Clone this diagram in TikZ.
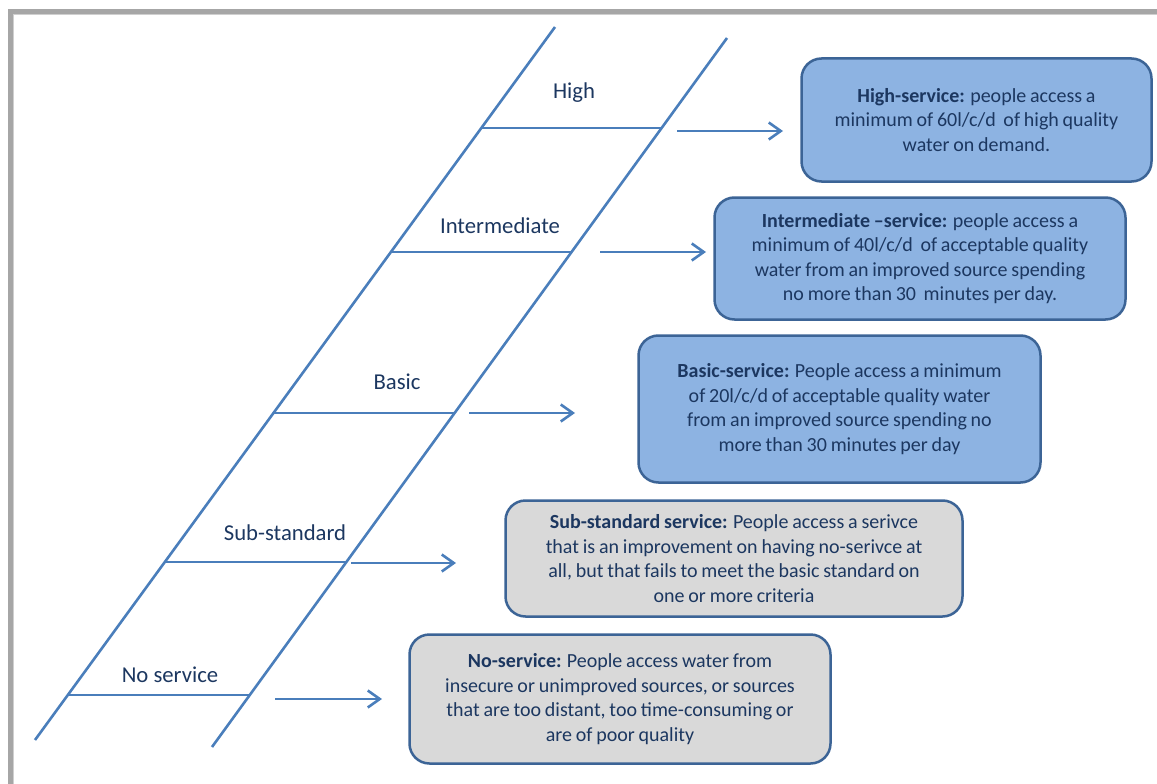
\documentclass[tikz,border=0pt]{standalone}
\usepackage{fontspec}
\setmainfont{Carlito}
\usetikzlibrary{arrows.meta}
\definecolor{railc}{HTML}{4A7EBB}
\definecolor{txtc}{HTML}{1C3760}
\definecolor{boxborder}{HTML}{3C6496}
\definecolor{bluefill}{HTML}{8DB3E2}
\definecolor{grayfill}{HTML}{D9D9D9}
\definecolor{framec}{HTML}{A6A6A6}
\definecolor{framelt}{HTML}{CFCFCF}
\newcommand{\boxfont}{\fontsize{20}{24.6}\selectfont\spaceskip=0.19em plus 0.05em minus 0.03em\relax}
\tikzset{
  rail/.style={draw=railc, line width=2.6pt},
  rung/.style={draw=railc, line width=2.6pt},
  steparrow/.style={draw=railc, line width=2.6pt, -{Straight Barb[length=12pt,width=17pt]}},
  steplabel/.style={anchor=base, text=txtc, font=\fontsize{22.7}{26}\selectfont, inner sep=0pt},
  infobox/.style={draw=boxborder, line width=2.5pt, rounded corners=20pt, text=txtc,
    align=center, font=\boxfont, inner sep=0pt},
  bluebox/.style={infobox, fill=bluefill},
  graybox/.style={infobox, fill=grayfill},
}
\begin{document}
\begin{tikzpicture}[x=1pt,y=-1pt]
\useasboundingbox (0,0) rectangle (1157,784);
% frame
\draw[framelt, line width=1.2pt] (13.6,784) -- (13.6,14.6) -- (1157,14.6);
\draw[framec, line width=4.5pt] (10.5,784) -- (10.5,11.5) -- (1157,11.5);

% rails
\coordinate (lb) at (35,740);
\coordinate (lt) at (555,27);
\coordinate (rb) at (212,747);
\coordinate (rt) at (727,38);
\draw[rail] (lb) -- (lt);
\draw[rail] (rb) -- (rt);

% rung end points
\coordinate (hl) at (481.3,128);  \coordinate (hr) at (661.6,128);
\coordinate (il) at (390.9,252);  \coordinate (ir) at (571.6,252);
\coordinate (bl) at (273.5,413);  \coordinate (br) at (454.6,413);
\coordinate (sl) at (164.8,562);  \coordinate (sr) at (346.4,562);
\coordinate (nl) at (67.8,695);   \coordinate (nr) at (249.8,695);
\draw[rung] (hl) -- (hr);
\draw[rung] (il) -- (ir);
\draw[rung] (bl) -- (br);
\draw[rung] (sl) -- (sr);
\draw[rung] (nl) -- (nr);

% step labels
\node[steplabel] (lhigh) at (574,98.3) {High};
\node[steplabel] (linter) at (500,233) {Intermediate};
\node[steplabel] (lbasic) at (397,389) {Basic};
\node[steplabel] (lsub) at (285,540) {Sub-standard};
\node[steplabel] (lno) at (170,682) {No service};

% boxes
\node[bluebox, minimum width=350pt, minimum height=123pt] (bhigh) at (976.5,120)
  {\textbf{High-service:} people access a\\ minimum of 60l/c/d\ \ of high quality\\ water on demand.};
\node[bluebox, minimum width=411pt, minimum height=122pt] (binter) at (920,258.5)
  {\textbf{Intermediate –service:} people access a\\ minimum of 40l/c/d\ \ of acceptable quality\\ water from an improved source spending\\ no more than 30\ \ minutes per day.};
\node[bluebox, minimum width=402pt, minimum height=147pt] (bbasic) at (839.5,409)
  {\textbf{Basic-service:} People access a minimum\\ of 20l/c/d of acceptable quality water\\ from an improved source spending no\\ more than 30 minutes per day};
\node[graybox, minimum width=457pt, minimum height=116pt] (bsub) at (734,558.5)
  {\textbf{Sub-standard service:} People access a serivce\\ that is an improvement on having no-serivce at\\ all, but that fails to meet the basic standard on\\ one or more criteria};
\node[graybox, minimum width=421pt, minimum height=129pt] (bno) at (620,699)
  {\textbf{No-service:} People access water from\\ insecure or unimproved sources, or sources\\ that are too distant, too time-consuming or\\ are of poor quality};

% arrows
\coordinate (ah1) at (677,131);  \coordinate (ah2) at (783,131);
\coordinate (ai1) at (600,252);  \coordinate (ai2) at (706,252);
\coordinate (ab1) at (469,413);  \coordinate (ab2) at (575,413);
\coordinate (as1) at (351,563);  \coordinate (as2) at (456,563);
\coordinate (an1) at (275,699);  \coordinate (an2) at (382,699);
\draw[steparrow] (ah1) -- (ah2);
\draw[steparrow] (ai1) -- (ai2);
\draw[steparrow] (ab1) -- (ab2);
\draw[steparrow] (as1) -- (as2);
\draw[steparrow] (an1) -- (an2);
\end{tikzpicture}
\end{document}
